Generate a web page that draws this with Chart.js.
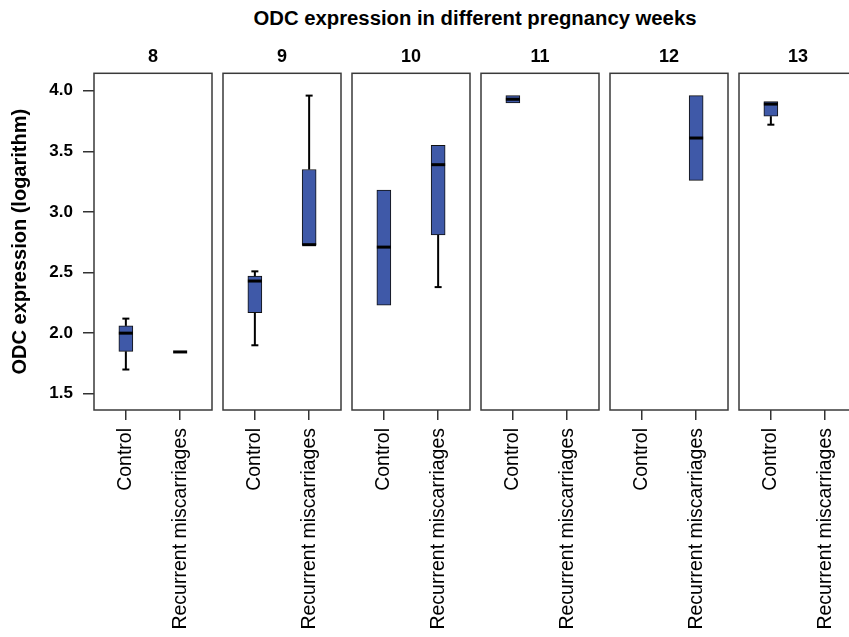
<!DOCTYPE html>
<html><head><meta charset="utf-8">
<script src="https://cdn.jsdelivr.net/npm/chart.js@4.4.1/dist/chart.umd.min.js"></script>
<style>
html,body{margin:0;padding:0;background:#fff;width:849px;height:637px;overflow:hidden;position:relative;}
canvas{position:absolute;top:0;}
#title{position:absolute;top:6px;left:475px;transform:translateX(-50%);white-space:nowrap;font:bold 20.3px "Liberation Sans",Arial,sans-serif;color:#000;line-height:24px;}
</style></head><body>
<div id="title">ODC expression in different pregnancy weeks</div>
<script>
// ---- data ----
const weeks = ['8', '9', '10', '11', '12', '13'];
const groups = ['Control', 'Recurrent miscarriages'];
const yTicks = [1.5, 2.0, 2.5, 3.0, 3.5, 4.0];
const controlMin = [1.70, 1.90, 2.23, 3.90, null, 3.72];
const controlQ1  = [1.85, 2.17, 2.23, 3.90, null, 3.79];
const controlMed = [2.00, 2.43, 2.71, 3.93, null, 3.89];
const controlQ3  = [2.06, 2.47, 3.18, 3.96, null, 3.91];
const controlMax = [2.12, 2.51, 3.18, 3.96, null, 3.91];
const rmMin = [1.845, 2.73, 2.38, null, 3.26, null];
const rmQ1  = [1.845, 2.73, 2.81, null, 3.26, null];
const rmMed = [1.845, 2.73, 3.39, null, 3.61, null];
const rmQ3  = [1.845, 3.35, 3.55, null, 3.96, null];
const rmMax = [1.845, 3.96, 3.55, null, 3.96, null];

// ---- layout ----
const FONT = '"Liberation Sans", Arial, sans-serif';
Chart.defaults.font.family = FONT;
Chart.defaults.color = '#000';
const PANEL_LEFT0 = 94, STEP = 129, PANEL_W = 118, PAD = 3;
const Y_MIN = 1.366, Y_MAX = 4.144;
const X_MIN = -0.587, X_MAX = 1.587;
const BOX_FILL = '#3f59a8';
const FRAME = '#3a3a3a';

const stats = [
  [controlMin, controlQ1, controlMed, controlQ3, controlMax],
  [rmMin, rmQ1, rmMed, rmQ3, rmMax]
];

const boxPlugin = {
  id: 'boxwhisk',
  afterDatasetsDraw(chart, args, opts) {
    const {ctx, scales: {x, y}} = chart;
    const i = opts.panel;
    ctx.save();
    stats.forEach((s, g) => {
      if (s[2][i] == null) return;
      const px = x.getPixelForValue(g);
      const yMin = y.getPixelForValue(s[0][i]);
      const yQ1 = y.getPixelForValue(s[1][i]);
      const yMed = y.getPixelForValue(s[2][i]);
      const yQ3 = y.getPixelForValue(s[3][i]);
      const yMax = y.getPixelForValue(s[4][i]);
      ctx.strokeStyle = '#000';
      ctx.lineWidth = 2;
      if (s[4][i] > s[3][i]) {
        ctx.beginPath(); ctx.moveTo(px, yQ3); ctx.lineTo(px, yMax); ctx.stroke();
        ctx.beginPath(); ctx.moveTo(px - 3.5, yMax); ctx.lineTo(px + 3.5, yMax); ctx.stroke();
      }
      if (s[0][i] < s[1][i]) {
        ctx.beginPath(); ctx.moveTo(px, yQ1); ctx.lineTo(px, yMin); ctx.stroke();
        ctx.beginPath(); ctx.moveTo(px - 3.5, yMin); ctx.lineTo(px + 3.5, yMin); ctx.stroke();
      }
      ctx.lineWidth = 3;
      ctx.beginPath(); ctx.moveTo(px - 7, yMed); ctx.lineTo(px + 7, yMed); ctx.stroke();
    });
    const a = chart.chartArea;
    ctx.strokeStyle = FRAME;
    ctx.lineWidth = 1.5;
    ctx.strokeRect(a.left, a.top, a.right - a.left, a.bottom - a.top);
    ctx.restore();
  }
};

function makeChart(i) {
  const first = i === 0;
  const canvas = document.createElement('canvas');
  const left = first ? 0 : PANEL_LEFT0 + i * STEP - PAD;
  const width = first ? PANEL_LEFT0 + PANEL_W + PAD : PANEL_W + 2 * PAD;
  canvas.width = width; canvas.height = 637;
  canvas.style.left = left + 'px';
  canvas.style.width = width + 'px';
  canvas.style.height = '637px';
  document.body.appendChild(canvas);

  const data = [];
  stats.forEach((s, g) => {
    if (s[1][i] != null) data.push({x: g, y: [s[1][i], s[3][i]]});
  });

  new Chart(canvas, {
    type: 'bar',
    data: {
      datasets: [{
        data: data,
        backgroundColor: BOX_FILL,
        borderColor: '#111',
        borderWidth: 1,
        borderSkipped: false,
        barThickness: 14
      }]
    },
    options: {
      responsive: false,
      animation: false,
      devicePixelRatio: 1,
      layout: {padding: {left: first ? 0 : PAD, right: PAD, top: 0, bottom: 0}},
      plugins: {
        legend: {display: false},
        tooltip: {enabled: false},
        title: {
          display: true, text: weeks[i], color: '#000', fullSize: false,
          font: {size: 18, weight: 'bold'},
          padding: {top: 46.2, bottom: 5.5}
        },
        boxwhisk: {panel: i}
      },
      scales: {
        x: {
          type: 'linear', min: X_MIN, max: X_MAX, offset: false,
          afterBuildTicks: (sc) => { sc.ticks = groups.map((_, k) => ({value: k})); },
          afterFit: (sc) => { sc.height = 227; },
          grid: {offset: false, drawOnChartArea: false, drawTicks: true, tickLength: 10, color: '#333', lineWidth: 1.5},
          border: {display: false},
          ticks: {
            autoSkip: false, minRotation: 90, maxRotation: 90, padding: 8,
            color: '#000', font: {size: 19.5},
            callback: (v) => groups[v] !== undefined ? groups[v] : ''
          }
        },
        y: {
          type: 'linear', min: Y_MIN, max: Y_MAX,
          display: first,
          afterBuildTicks: (sc) => { sc.ticks = yTicks.map(v => ({value: v})); },
          afterFit: (sc) => { if (first) sc.width = PANEL_LEFT0; },
          grid: {drawOnChartArea: false, drawTicks: true, tickLength: 11, color: '#333', lineWidth: 1.5},
          border: {display: false},
          ticks: {
            color: '#000', padding: 10, font: {size: 17, weight: 'bold'},
            callback: (v) => Number(v).toFixed(1)
          },
          title: {
            display: true, text: 'ODC expression (logarithm)', color: '#000',
            font: {size: 20, weight: 'bold'}, padding: {top: 8, bottom: 0}
          }
        }
      }
    },
    plugins: [boxPlugin]
  });
}

for (let i = 0; i < weeks.length; i++) makeChart(i);
</script>
</body></html>
